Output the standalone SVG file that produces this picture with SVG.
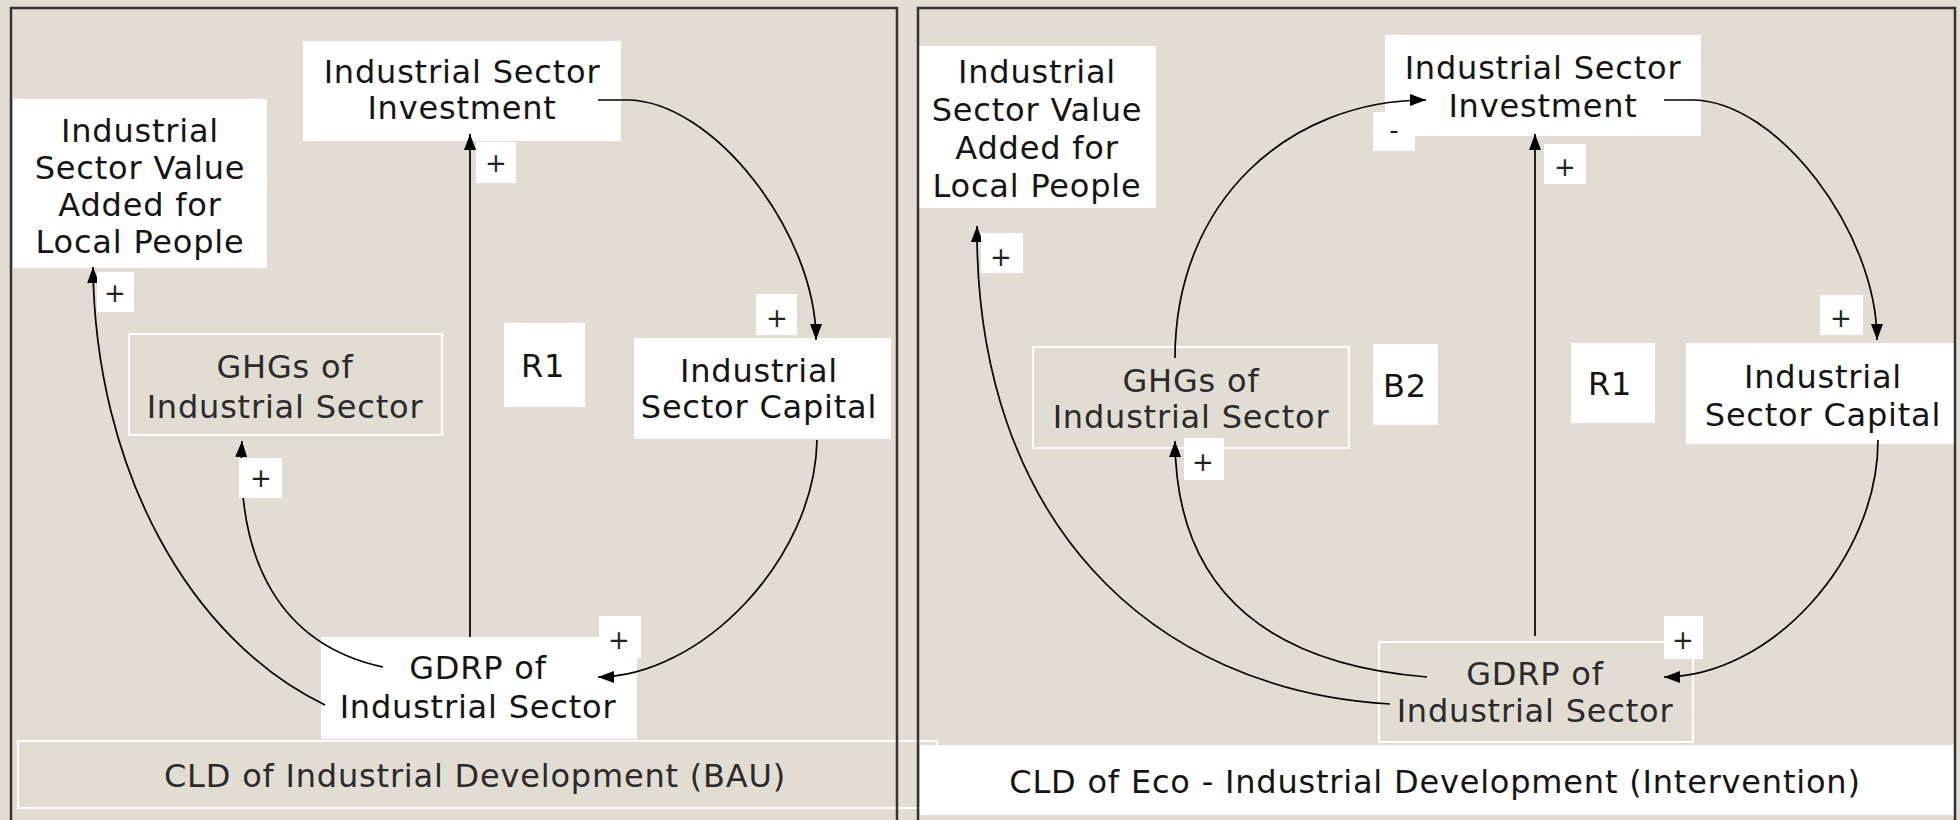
<svg xmlns="http://www.w3.org/2000/svg" width="1960" height="820" viewBox="0 0 1960 820">
  <defs>
    <marker id="arrow" viewBox="0 0 16 12" refX="16" refY="6" markerWidth="16" markerHeight="12" markerUnits="userSpaceOnUse" orient="auto">
      <path d="M0,0 L16,6 L0,12 Z" fill="#000"/>
    </marker>
    <style>
      .bg { fill: #E2DDD3; }
      .frame { fill: none; stroke: #333; stroke-width: 2.5; }
      .box { fill: #FFFFFF; stroke: none; }
      .obox { fill: none; stroke: #FFFFFF; stroke-width: 2; }
      .txt { font-family: "DejaVu Sans", Verdana, sans-serif; font-size: 32px; letter-spacing: 0.8px; fill: #141414; text-anchor: middle; }
      .dim { fill: #2a2a2a; }
      .lbl { font-family: "DejaVu Sans", Verdana, sans-serif; font-size: 26px; fill: #222; text-anchor: middle; }
      .link { fill: none; stroke: #000; stroke-width: 1.7; marker-end: url(#arrow); }
    </style>
  </defs>

  <rect class="bg" x="0" y="0" width="1960" height="820"/>

  <!-- ===== Left panel: BAU ===== -->
  <g id="bau-panel">
    <g id="bau-title">
      <rect class="obox" x="18" y="741" width="919" height="67"/>
      <text class="txt dim" x="475" y="787">CLD of Industrial Development (BAU)</text>
    </g>
    <g id="bau-value-added">
      <rect class="box" x="13" y="99" width="254" height="169"/>
      <text class="txt" x="140" y="142">Industrial</text>
      <text class="txt" x="140" y="179">Sector Value</text>
      <text class="txt" x="140" y="216">Added for</text>
      <text class="txt" x="140" y="253">Local People</text>
    </g>
    <g id="bau-investment">
      <rect class="box" x="303" y="41" width="318" height="100"/>
      <text class="txt" x="462" y="83">Industrial Sector</text>
      <text class="txt" x="462" y="119">Investment</text>
    </g>
    <g id="bau-ghg">
      <rect class="obox" x="129" y="334" width="313" height="101"/>
      <text class="txt dim" x="285" y="378">GHGs of</text>
      <text class="txt dim" x="285" y="418">Industrial Sector</text>
    </g>
    <g id="bau-loop-r1">
      <rect class="box" x="504" y="323" width="81" height="84"/>
      <text class="txt" x="543" y="377">R1</text>
    </g>
    <g id="bau-capital">
      <rect class="box" x="634" y="338" width="257" height="101"/>
      <text class="txt" x="759" y="382">Industrial</text>
      <text class="txt" x="759" y="418">Sector Capital</text>
    </g>
    <g id="bau-gdrp">
      <rect class="box" x="321" y="637" width="316" height="102"/>
      <text class="txt" x="478" y="679">GDRP of</text>
      <text class="txt" x="478" y="718">Industrial Sector</text>
    </g>
  </g>

  <!-- ===== Right panel: intervention ===== -->
  <g id="eco-panel">
    <g id="eco-title">
      <rect class="box" x="920" y="745" width="1036" height="70"/>
      <text class="txt" x="1435" y="793">CLD of Eco - Industrial Development (Intervention)</text>
    </g>
    <g id="eco-value-added">
      <rect class="box" x="919" y="46" width="237" height="162"/>
      <text class="txt" x="1037" y="83">Industrial</text>
      <text class="txt" x="1037" y="121">Sector Value</text>
      <text class="txt" x="1037" y="159">Added for</text>
      <text class="txt" x="1037" y="197">Local People</text>
    </g>
    <g id="eco-investment">
      <rect class="box" x="1385" y="35" width="316" height="101"/>
      <text class="txt" x="1543" y="79">Industrial Sector</text>
      <text class="txt" x="1543" y="117">Investment</text>
    </g>
    <g id="eco-ghg">
      <rect class="obox" x="1033" y="347" width="316" height="101"/>
      <text class="txt dim" x="1191" y="392">GHGs of</text>
      <text class="txt dim" x="1191" y="428">Industrial Sector</text>
    </g>
    <g id="eco-loop-b2">
      <rect class="box" x="1373" y="344" width="65" height="81"/>
      <text class="txt" x="1405" y="397">B2</text>
    </g>
    <g id="eco-loop-r1">
      <rect class="box" x="1571" y="343" width="84" height="80"/>
      <text class="txt" x="1610" y="395">R1</text>
    </g>
    <g id="eco-capital">
      <rect class="box" x="1686" y="343" width="269" height="101"/>
      <text class="txt" x="1823" y="388">Industrial</text>
      <text class="txt" x="1823" y="426">Sector Capital</text>
    </g>
    <g id="eco-gdrp">
      <rect class="obox" x="1379" y="642" width="314" height="100"/>
      <text class="txt dim" x="1535" y="685">GDRP of</text>
      <text class="txt dim" x="1535" y="722">Industrial Sector</text>
    </g>
  </g>

  <!-- panel frames -->
  <g id="frames">
    <rect class="frame" x="11" y="8" width="886" height="830"/>
    <rect class="frame" x="918" y="8" width="1037" height="830"/>
  </g>

  <!-- causal links -->
  <g id="connectors">
    <path class="link" d="M470,637 L470,134"/>
    <path class="link" d="M598,100 L627,100 C712,100 816,232 816,340"/>
    <path class="link" d="M817,440 C815,560 700,677 598,677"/>
    <path class="link" d="M383,667 C280,645 236,560 242,441"/>
    <path class="link" d="M325,705 C190,640 95,470 93,267"/>

    <path class="link" d="M1535,636 L1535,134"/>
    <path class="link" d="M1664,100 L1692,100 C1777,100 1877,232 1877,340"/>
    <path class="link" d="M1878,440 C1878,560 1770,677 1664,677"/>
    <path class="link" d="M1427,677 C1280,665 1176,600 1175,441"/>
    <path class="link" d="M1390,704 C1150,690 975,520 977,226"/>
    <path class="link" d="M1175,358 C1175,200 1290,100 1426,100"/>
  </g>

  <!-- link polarity labels -->
  <g id="polarities">
    <g id="pol-bau-inv"><rect class="box" x="476" y="142" width="40" height="41"/><text class="lbl" x="496" y="172">+</text></g>
    <g id="pol-bau-va"><rect class="box" x="97" y="272" width="37" height="40"/><text class="lbl" x="115" y="302">+</text></g>
    <g id="pol-bau-ghg"><rect class="box" x="239" y="458" width="43" height="40"/><text class="lbl" x="261" y="487">+</text></g>
    <g id="pol-bau-cap"><rect class="box" x="756" y="294" width="41" height="41"/><text class="lbl" x="777" y="327">+</text></g>
    <g id="pol-bau-gdrp"><rect class="box" x="599" y="616" width="42" height="42"/><text class="lbl" x="619" y="649">+</text></g>

    <g id="pol-eco-neg"><rect class="box" x="1373" y="112" width="42" height="39"/><text class="lbl" x="1394" y="139">-</text></g>
    <g id="pol-eco-inv"><rect class="box" x="1544" y="144" width="42" height="40"/><text class="lbl" x="1565" y="176">+</text></g>
    <g id="pol-eco-va"><rect class="box" x="981" y="233" width="42" height="40"/><text class="lbl" x="1001" y="266">+</text></g>
    <g id="pol-eco-ghg"><rect class="box" x="1184" y="438" width="40" height="42"/><text class="lbl" x="1203" y="471">+</text></g>
    <g id="pol-eco-cap"><rect class="box" x="1820" y="295" width="43" height="40"/><text class="lbl" x="1841" y="327">+</text></g>
    <g id="pol-eco-gdrp"><rect class="box" x="1664" y="616" width="39" height="43"/><text class="lbl" x="1683" y="649">+</text></g>
  </g>
</svg>
